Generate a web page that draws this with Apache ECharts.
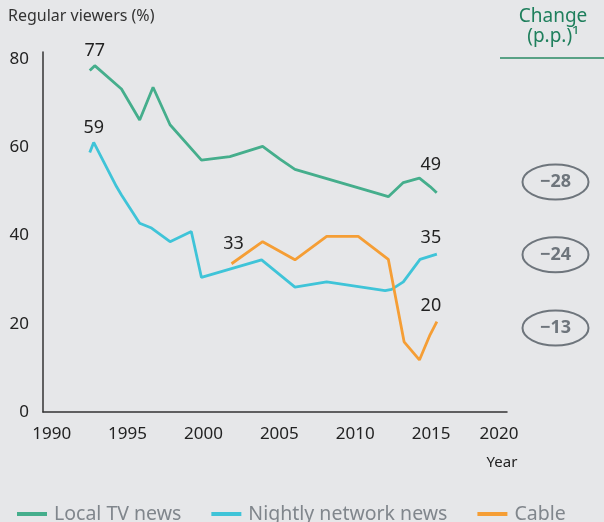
<!DOCTYPE html>
<html>
<head>
<meta charset="utf-8">
<script src="https://cdn.jsdelivr.net/npm/echarts@6/dist/echarts.min.js"></script>
<style>
  html, body { margin: 0; padding: 0; background: #e6e7e9; }
  #chart { width: 604px; height: 522px; }
</style>
</head>
<body>
<div id="chart"></div>
<script>
// 数据 ---------------------------------------------------------------
var yearTicks = [1990, 1995, 2000, 2005, 2010, 2015, 2020];
var valueTicks = [0, 20, 40, 60, 80];

var localYears = [1992.51, 1992.84, 1994.6, 1995.8, 1996.68, 1997.8, 1999.87, 2001.74, 2003.9,
  2005.04, 2006.03, 2011.4, 2012.18, 2013.17, 2014.23, 2014.93, 2015.37];
var localValues = [77.4, 78.5, 73.2, 66.2, 73.6, 65.1, 57.1, 57.9, 60.2,
  57.3, 55.0, 49.6, 48.8, 52.0, 53.0, 51.1, 49.7];

var nightlyYears = [1992.51, 1992.77, 1994.27, 1994.6, 1995.8, 1996.58, 1997.8, 1999.2, 1999.87,
  2003.83, 2006.03, 2008.12, 2011.97, 2012.4, 2013.17, 2014.27, 2015.38];
var nightlyValues = [58.8, 61.1, 51.1, 49.2, 42.8, 41.7, 38.6, 40.9, 30.5,
  34.5, 28.3, 29.5, 27.5, 27.8, 29.5, 34.6, 35.8];

var cableYears = [2001.85, 2003.9, 2006.03, 2008.12, 2010.2, 2012.18, 2013.22, 2014.23, 2014.93, 2015.38];
var cableValues = [33.6, 38.6, 34.5, 39.8, 39.8, 34.6, 15.9, 11.8, 17.5, 20.5];

var seriesNames = ['Local TV news', 'Nightly network news', 'Cable'];
// 标注: [序号, 文字, dx, dy]
var localLabels = [[1, '77', 0, -1], [16, '49', -6, -14]];
var nightlyLabels = [[1, '59', 0, -1], [16, '35', -6, -2]];
var cableLabels = [[0, '33', 2, -6], [9, '20', -6, -2]];

var changeValues = ['\u221228', '\u221224', '\u221213'];

// 样式 ---------------------------------------------------------------
var FONT = 'Noto Sans, DejaVu Sans, sans-serif';
var colors = ['#45ae8c', '#3fc4d8', '#f59e35'];

var buildData = function(xs, ys, labels) {
  var d = xs.map(function(x, i) { return [x, ys[i]]; });
  labels.forEach(function(l) {
    d[l[0]] = {
      value: d[l[0]],
      label: {
        show: true, formatter: l[1], position: 'top', distance: 5,
        offset: [l[2], l[3]], color: '#222', fontSize: 18, fontFamily: FONT
      }
    };
  });
  return d;
};

var lineSeries = function(name, data, color) {
  return {
    name: name, type: 'line', data: data,
    showSymbol: true, symbol: 'circle', symbolSize: 0,
    label: { show: false },
    lineStyle: { color: color, width: 2.8 }, itemStyle: { color: color },
    emphasis: { disabled: true }, silent: true, z: 3
  };
};

// 右侧圆圈
var ovalY = [180, 252.7, 326];
var ovals = changeValues.map(function(t, i) {
  return {
    type: 'group', left: 520, top: ovalY[i] - 18,
    children: [
      { type: 'ellipse', shape: { cx: 33.5, cy: 18, rx: 33, ry: 17.5 },
        style: { fill: 'none', stroke: '#6e757c', lineWidth: 2 } },
      { type: 'text', x: 33.5, y: 18,
        style: { text: t, fill: '#6e757c', font: 'bold 18px ' + FONT, align: 'center', verticalAlign: 'middle' } }
    ]
  };
});

var chart = echarts.init(document.getElementById('chart'));
var option = {
  backgroundColor: '#e6e7e9',
  animation: false,
  grid: { left: 43, right: 97, top: 52, bottom: 110, containLabel: false },
  xAxis: {
    type: 'value', min: 1989.43, max: 2020,
    axisLine: { show: true, lineStyle: { color: '#333', width: 1.5 } },
    axisTick: { show: false },
    splitLine: { show: false },
    axisLabel: {
      customValues: yearTicks, margin: 14, color: '#222', fontSize: 17, fontFamily: FONT,
      formatter: function(v) { return v === 2020 ? '{l|2020}' : String(v); },
      rich: { l: { padding: [0, 16, 0, 0], color: '#222', fontSize: 17, fontFamily: FONT } }
    }
  },
  yAxis: {
    type: 'value', min: 0, max: 81.6,
    axisLine: { show: true, lineStyle: { color: '#333', width: 1.5 } },
    axisTick: { show: false },
    splitLine: { show: false },
    axisLabel: { customValues: valueTicks, margin: 14, color: '#222', fontSize: 17, fontFamily: FONT }
  },
  legend: {
    left: 12, top: 499, itemGap: 30, itemWidth: 30, itemHeight: 4, icon: 'rect',
    textStyle: { color: '#80868c', fontSize: 19.5, fontFamily: FONT, padding: [0, 0, 0, 2] },
    data: seriesNames
  },
  series: [
    lineSeries(seriesNames[0], buildData(localYears, localValues, localLabels), colors[0]),
    lineSeries(seriesNames[1], buildData(nightlyYears, nightlyValues, nightlyLabels), colors[1]),
    lineSeries(seriesNames[2], buildData(cableYears, cableValues, cableLabels), colors[2])
  ],
  graphic: [
    { type: 'text', left: 8, top: 8,
      style: { text: 'Regular viewers (%)', fill: '#333', font: '16px ' + FONT } },
    { type: 'text', x: 502, y: 463,
      style: { text: 'Year', fill: '#222', font: '15px ' + FONT, align: 'center', verticalAlign: 'middle' } },
    { type: 'text', x: 553, y: 17,
      style: { text: 'Change', fill: '#1e7f5c', font: '19px ' + FONT, align: 'center', verticalAlign: 'middle' } },
    { type: 'text', x: 553, y: 37,
      style: { text: '(p.p.)\u00b9', fill: '#1e7f5c', font: '19px ' + FONT, align: 'center', verticalAlign: 'middle' } },
    { type: 'line', shape: { x1: 500, y1: 58, x2: 604, y2: 58 },
      style: { stroke: '#2a8a63', lineWidth: 1.5 } }
  ].concat(ovals)
};
chart.setOption(option);
</script>
</body>
</html>
